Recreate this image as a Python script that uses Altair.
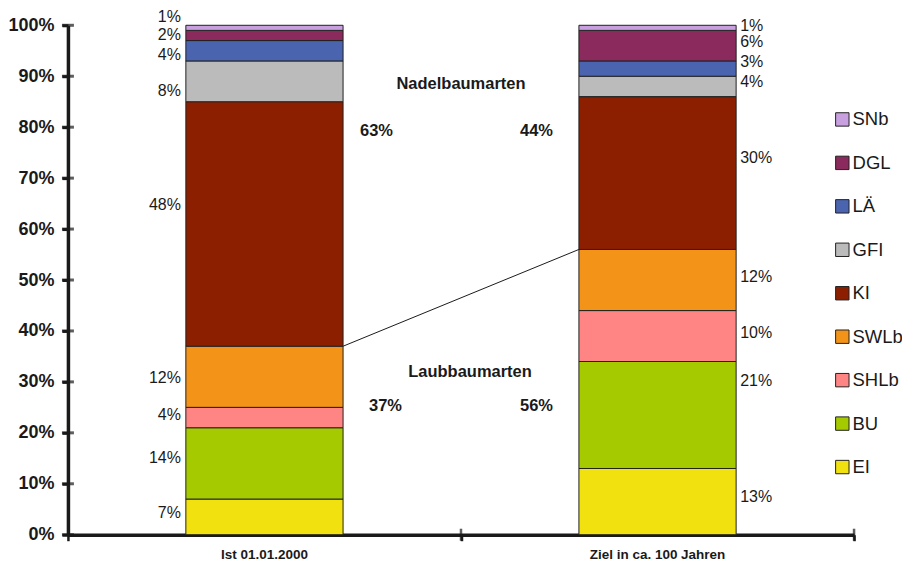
import altair as alt
import pandas as pd

# ---- data ----
species = ["EI", "BU", "SHLb", "SWLb", "KI", "GFI", "LÄ", "DGL", "SNb"]
laub = ["EI", "BU", "SHLb", "SWLb"]
ist_2000 = [7, 14, 4, 12, 48, 8, 4, 2, 1]
ziel_100 = [13, 21, 10, 12, 30, 4, 3, 6, 1]
# label anchor heights (percent) as placed in the original
ist_label_pos = [4.3, 15.1, 23.5, 30.8, 64.7, 87.1, 94.1, 98.0, 101.6]
ziel_label_pos = [7.5, 30.2, 39.6, 50.6, 73.9, 88.8, 92.7, 96.7, 99.8]
categories = ["Ist 01.01.2000", "Ziel in ca. 100 Jahren"]
colors = ["#f1e10e", "#a5cb00", "#ff8585", "#f39419", "#8b1f00",
          "#bbbbbb", "#4a64b0", "#8b2a5c", "#c8a0e0"]
y_ticks = [i / 10 for i in range(11)]
x_ticks = [1, 2]

bar_centers = [0.5, 1.5]
half_w = 0.2

rows = []
for ci, (cat, vals, lpos) in enumerate(zip(categories, [ist_2000, ziel_100],
                                           [ist_label_pos, ziel_label_pos])):
    cum = 0
    for sp, v, lp in zip(species, vals, lpos):
        rows.append(dict(cat=cat, sp=sp, v=v, y0=cum / 100, y1=(cum + v) / 100,
                         x0=bar_centers[ci] - half_w, x1=bar_centers[ci] + half_w,
                         ly=lp / 100, lab=f"{v}%", bar=ci))
        cum += v
df = pd.DataFrame(rows)

FONT = "Liberation Sans"
INK = "#1a1a1a"
xs = alt.Scale(domain=[0, 2], nice=False, zero=False)
ys = alt.Scale(domain=[0, 1], nice=False, zero=False)

legend_order = list(reversed(species))
color_scale = alt.Scale(domain=species, range=colors)

bars = alt.Chart(df).mark_rect(stroke="#222222", strokeWidth=1).encode(
    x=alt.X("x0:Q", scale=xs,
            axis=alt.Axis(values=[0, 1, 2], labels=False, title=None, grid=False,
                          domainWidth=3.5, domainColor=INK, tickSize=6,
                          tickWidth=2.5, tickColor=INK)),
    x2="x1:Q",
    y=alt.Y("y0:Q", scale=ys,
            axis=alt.Axis(values=y_ticks, format=".0%", title=None, grid=False,
                          domainWidth=3.5, domainColor=INK, tickSize=6,
                          tickWidth=3, tickColor=INK, labelFont=FONT,
                          labelFontSize=18, labelFontWeight="bold",
                          labelColor=INK, labelPadding=8)),
    y2="y1:Q",
    fill=alt.Fill("sp:N", scale=color_scale,
                  legend=alt.Legend(title=None, orient="none", legendX=766, legendY=85,
                                    values=legend_order, symbolType="square",
                                    symbolSize=180, symbolStrokeColor="#222222",
                                    symbolStrokeWidth=1, symbolOpacity=1,
                                    labelFont=FONT, labelFontSize=18.5,
                                    labelColor=INK, rowPadding=24.5,
                                    labelOffset=1, padding=0, labelLimit=200)),
)

# crossing ticks on both axes
ytick_df = pd.DataFrame({"x": [0] * len(y_ticks), "y": y_ticks})
yticks = alt.Chart(ytick_df).mark_tick(orient="horizontal", size=12, thickness=3,
                                       color=INK).encode(
    x=alt.X("x:Q", scale=xs), y=alt.Y("y:Q", scale=ys))
xtick_df = pd.DataFrame({"x": x_ticks, "y": [0] * len(x_ticks)})
xticks = alt.Chart(xtick_df).mark_tick(orient="vertical", size=12, thickness=2.5,
                                       color=INK).encode(
    x=alt.X("x:Q", scale=xs), y=alt.Y("y:Q", scale=ys))

# segment labels
lab1 = alt.Chart(df[df.bar == 0]).mark_text(align="right", baseline="middle", dx=-5,
                                            font=FONT, fontSize=16, color=INK).encode(
    x=alt.X("x0:Q", scale=xs), y=alt.Y("ly:Q", scale=ys), text="lab:N")
lab2 = alt.Chart(df[df.bar == 1]).mark_text(align="left", baseline="middle", dx=4,
                                            font=FONT, fontSize=16, color=INK).encode(
    x=alt.X("x1:Q", scale=xs), y=alt.Y("ly:Q", scale=ys), text="lab:N")

# connecting line between Laub/Nadel boundary
laub_ist = sum(v for s, v in zip(species, ist_2000) if s in laub)
laub_ziel = sum(v for s, v in zip(species, ziel_100) if s in laub)
line_df = pd.DataFrame({"x": [bar_centers[0] + half_w], "x2": [bar_centers[1] - half_w],
                        "y": [laub_ist / 100], "y2": [laub_ziel / 100]})
conn = alt.Chart(line_df).mark_rule(color=INK, strokeWidth=1).encode(
    x=alt.X("x:Q", scale=xs), x2="x2:Q", y=alt.Y("y:Q", scale=ys), y2="y2:Q")

# group sums and headings
nadel_ist = 100 - laub_ist
nadel_ziel = 100 - laub_ziel
ann_df = pd.DataFrame([
    dict(t="Nadelbaumarten", x=1.0, y=0.884),
    dict(t="Laubbaumarten", x=1.023, y=0.32),
])
heads = alt.Chart(ann_df).mark_text(baseline="middle", font=FONT, fontSize=16.5,
                                    fontWeight="bold", color=INK).encode(
    x=alt.X("x:Q", scale=xs), y=alt.Y("y:Q", scale=ys), text="t:N")

sum_left = pd.DataFrame({"t": [f"{nadel_ist}%", f"{laub_ist}%"],
                         "x": [bar_centers[0] + half_w] * 2, "y": [0.792, 0.253]})
sum_right = pd.DataFrame({"t": [f"{nadel_ziel}%", f"{laub_ziel}%"],
                          "x": [bar_centers[1] - half_w] * 2, "y": [0.792, 0.253]})
s1 = alt.Chart(sum_left.iloc[[0]]).mark_text(align="left", baseline="middle", dx=17,
                                             font=FONT, fontSize=16.5, fontWeight="bold",
                                             color=INK).encode(
    x=alt.X("x:Q", scale=xs), y=alt.Y("y:Q", scale=ys), text="t:N")
s2 = alt.Chart(sum_left.iloc[[1]]).mark_text(align="left", baseline="middle", dx=26,
                                             font=FONT, fontSize=16.5, fontWeight="bold",
                                             color=INK).encode(
    x=alt.X("x:Q", scale=xs), y=alt.Y("y:Q", scale=ys), text="t:N")
s3 = alt.Chart(sum_right).mark_text(align="right", baseline="middle", dx=-26,
                                    font=FONT, fontSize=16.5, fontWeight="bold",
                                    color=INK).encode(
    x=alt.X("x:Q", scale=xs), y=alt.Y("y:Q", scale=ys), text="t:N")

# category labels below axis
cat_df = pd.DataFrame({"t": categories, "x": bar_centers, "y": [-0.04, -0.04]})
cats = alt.Chart(cat_df).mark_text(baseline="middle", font=FONT,
                                   fontSize=13.5, fontWeight="bold",
                                   color=INK).encode(
    x=alt.X("x:Q", scale=xs), y=alt.Y("y:Q", scale=ys), text="t:N")

chart = alt.layer(bars, conn, yticks, xticks, lab1, lab2, heads, s1, s2, s3, cats).properties(
    width=787, height=510,
    autosize=alt.AutoSizeParams(type="none"),
    padding={"left": 60, "top": 17, "right": 48, "bottom": 28},
    background="white",
).configure_view(stroke=None)

chart.save("out.html", embed_options={"renderer": "svg", "actions": False})
